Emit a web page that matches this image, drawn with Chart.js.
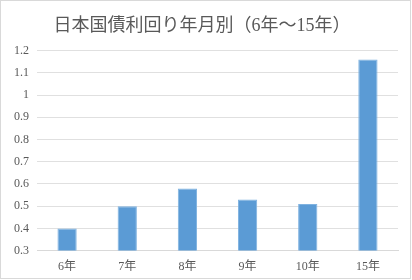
<!DOCTYPE html>
<html>
<head>
<meta charset="utf-8">
<script src="https://cdn.jsdelivr.net/npm/chart.js@4"></script>
<style>
  body { margin: 0; background: #fff; }
  #wrap { position: relative; width: 409px; height: 277px; border: 1px solid #d9d9d9; }
</style>
</head>
<body>
<div id="wrap"><canvas id="chart" width="409" height="277"></canvas></div>
<script>
var labels = ['6年', '7年', '8年', '9年', '10年', '15年'];
var yields = [0.4, 0.5, 0.58, 0.53, 0.51, 1.16];
var titleText = '日本国債利回り年月別（6年～15年）';

var fontFamily = '"Liberation Serif", "DejaVu Serif", "Noto Sans CJK JP", serif';

var ctx = document.getElementById('chart');
var myChart = new Chart(ctx, {
  type: 'bar',
  data: {
    labels: labels,
    datasets: [{
      data: yields,
      backgroundColor: '#5b9bd5',
      borderColor: '#7fb2e0',
      borderWidth: 1,
      barPercentage: 0.4,
      categoryPercentage: 0.8
    }]
  },
  options: {
    responsive: false,
    animation: false,
    layout: { padding: { left: 5, right: 12, top: 12, bottom: 3 } },
    plugins: {
      legend: { display: false },
      tooltip: { enabled: false },
      title: {
        display: true,
        text: titleText,
        color: '#595959',
        font: { family: fontFamily, size: 18, weight: 'normal' },
        padding: { top: 2, bottom: 14 }
      }
    },
    scales: {
      x: {
        grid: { display: false },
        border: { display: true, color: '#d9d9d9' },
        ticks: { color: '#595959', font: { family: fontFamily, size: 12 }, padding: 1 }
      },
      y: {
        min: 0.3,
        max: 1.2,
        ticks: {
          stepSize: 0.1,
          color: '#595959',
          font: { family: fontFamily, size: 12 },
          padding: 8,
          callback: function(v) { return Math.round(v * 10) / 10; }
        },
        grid: { color: '#e0e0e0', drawTicks: false },
        border: { display: false }
      }
    }
  }
});
</script>
</body>
</html>
